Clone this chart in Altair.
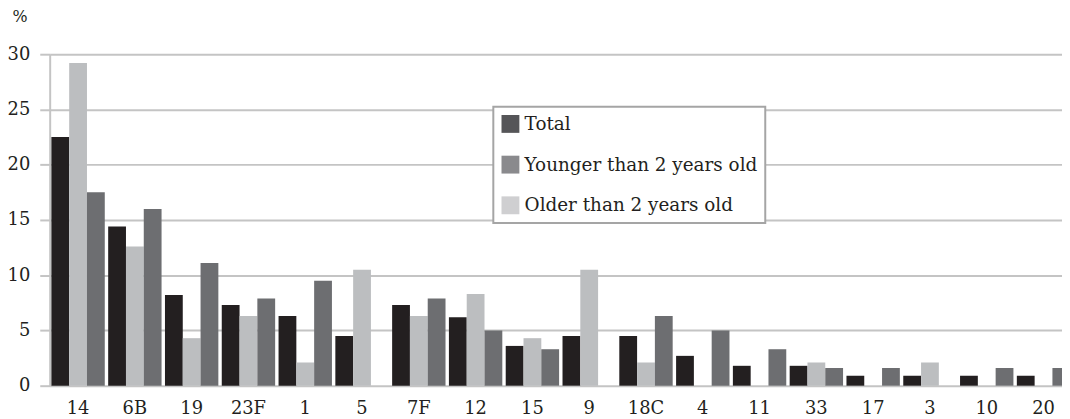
import altair as alt
import pandas as pd

# Serotype groups, in the order shown on the x axis
groups = ["14", "6B", "19", "23F", "1", "5", "7F", "12", "15", "9",
          "18C", "4", "11", "33", "17", "3", "10", "20"]

# Values (%), one list per series
total = [22.5, 14.4, 8.2, 7.3, 6.3, 4.5, 7.3, 6.2, 3.6, 4.5,
         4.5, 2.7, 1.8, 1.8, 0.9, 0.9, 0.9, 0.9]
older = [29.2, 12.6, 4.3, 6.3, 2.1, 10.5, 6.3, 8.3, 4.3, 10.5,
         2.1, 0.0, 0.0, 2.1, 0.0, 2.1, 0.0, 0.0]
younger = [17.5, 16.0, 11.1, 7.9, 9.5, 0.0, 7.9, 5.0, 3.3, 0.0,
           6.3, 5.0, 3.3, 1.6, 1.6, 0.0, 1.6, 1.6]

series_order = ["Total", "Older", "Younger"]
bar_colors = ["#231f20", "#bcbec0", "#6d6e71"]

legend_labels = ["Total", "Younger than 2 years old", "Older than 2 years old"]
legend_colors = ["#555558", "#8a8a8d", "#cfcfd1"]

y_ticks = [0, 5, 10, 15, 20, 25, 30]

rows = []
for i, g in enumerate(groups):
    rows.append({"group": g, "series": "Total", "value": total[i]})
    rows.append({"group": g, "series": "Older", "value": older[i]})
    rows.append({"group": g, "series": "Younger", "value": younger[i]})
df = pd.DataFrame(rows)

FONT = "DejaVu Serif"
GRID = "#c4c4c4"
TEXT = "#231f20"

bars = alt.Chart(df).mark_bar(clip=False).encode(
    x=alt.X("group:N", sort=groups,
            scale=alt.Scale(range=[0, 1030], paddingInner=0.06, paddingOuter=0.03),
            axis=alt.Axis(title=None, labelAngle=0, ticks=False, domain=False,
                          labelFont=FONT, labelFontSize=18, labelColor=TEXT,
                          labelPadding=14, grid=False, labelOverlap=False)),
    xOffset=alt.XOffset("series:N", sort=series_order,
                        scale=alt.Scale(paddingInner=0, paddingOuter=0)),
    y=alt.Y("value:Q",
            scale=alt.Scale(domain=[0, 30], nice=False),
            axis=alt.Axis(values=y_ticks, title="%", titleAngle=0,
                          titleAlign="left", titleBaseline="alphabetic",
                          titleX=-38, titleY=-33, titleFont=FONT,
                          titleFontSize=16, titleFontWeight="normal",
                          titleColor=TEXT,
                          labelFont=FONT, labelFontSize=18, labelColor=TEXT,
                          labelPadding=10, tickSize=10, tickColor=GRID,
                          tickWidth=2, domainColor=GRID, domainWidth=2,
                          gridColor=GRID, gridWidth=2)),
    color=alt.Color("series:N",
                    scale=alt.Scale(domain=series_order, range=bar_colors),
                    legend=None),
)

legend_df = pd.DataFrame({"label": legend_labels})
legend_layer = alt.Chart(legend_df).mark_square(opacity=0, size=1).encode(
    color=alt.Color("label:N", sort=legend_labels,
                    scale=alt.Scale(domain=legend_labels, range=legend_colors),
                    legend=alt.Legend(title=None, orient="none",
                                      legendX=447, legendY=53,
                                      symbolType="square", symbolSize=324,
                                      symbolStrokeWidth=0, symbolOpacity=1,
                                      labelFont=FONT, labelFontSize=18.5,
                                      labelColor=TEXT, labelOffset=5,
                                      labelLimit=400, rowPadding=22,
                                      padding=8, strokeColor="#a5a5a5",
                                      fillColor="white")),
)

chart = alt.layer(bars, legend_layer).resolve_scale(
    color="independent"
).properties(
    width=1020,
    height=334,
    autosize=alt.AutoSizeParams(type="none"),
    padding={"left": 42, "top": 45, "right": 0, "bottom": 32},
    background="white",
).configure_view(stroke=None).configure_legend(strokeWidth=2)

chart.save("out.html", embed_options={"renderer": "svg", "actions": False})
